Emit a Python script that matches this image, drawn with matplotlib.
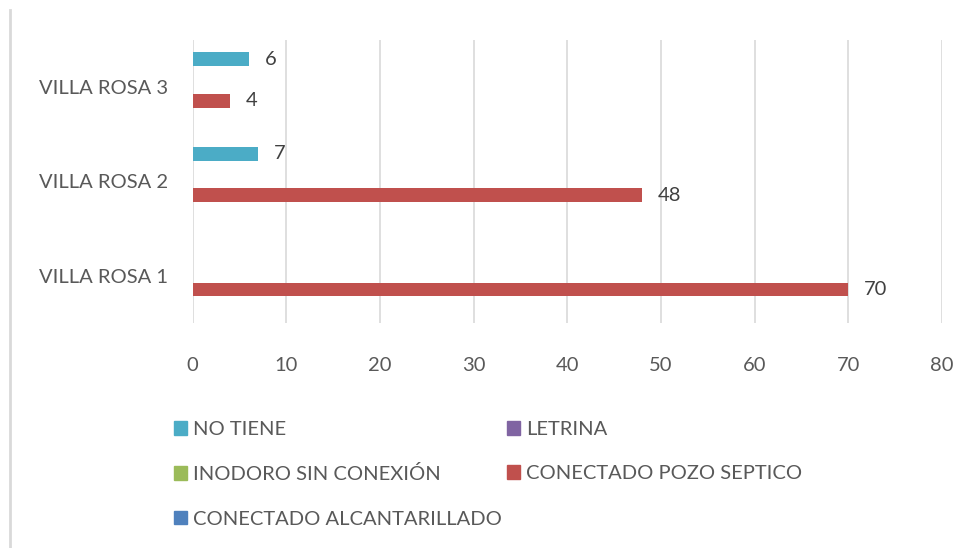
import matplotlib
matplotlib.use("Agg")
import numpy as np
from matplotlib import pyplot as plt
from matplotlib.lines import Line2D
from matplotlib.patches import Patch

# datos
categorias = ["VILLA ROSA 1", "VILLA ROSA 2", "VILLA ROSA 3"]
series = ["CONECTADO ALCANTARILLADO", "CONECTADO POZO SEPTICO",
          "INODORO SIN CONEXIÓN", "LETRINA", "NO TIENE"]
alcantarillado = [0, 0, 0]
pozo_septico = [70, 48, 4]
inodoro = [0, 0, 0]
letrina = [0, 0, 0]
no_tiene = [0, 7, 6]
colores = ["#4F81BD", "#C0504D", "#9BBB59", "#8064A2", "#4BACC6"]

valores = [alcantarillado, pozo_septico, inodoro, letrina, no_tiene]

plt.rcParams['font.family'] = ['Lato', 'DejaVu Sans']

fig = plt.figure(figsize=(9.73, 5.48), dpi=100)
ax = fig.add_axes([0.198, 0.411, 0.77, 0.516])

y = np.arange(len(categorias))
alto = 0.147
for i, (nombre, vals, col) in enumerate(zip(series, valores, colores)):
    pos = y + (i - 2) * alto
    ax.barh(pos, vals, height=alto, color=col, label=nombre, zorder=3)
    for p, v in zip(pos, vals):
        if v:
            ax.text(v + 1.7, p, str(v), va="center", ha="left",
                    fontsize=14.5, color="#404040")

ax.set_xlim(0, 80)
ax.set_ylim(-0.5, 2.5)
ax.set_xticks(np.arange(0, 81, 10))
ax.set_yticks(y)
ax.set_yticklabels(categorias)
ax.tick_params(axis="both", length=0, labelsize=14.5, colors="#595959")
ax.tick_params(axis="x", pad=25)
ax.tick_params(axis="y", pad=18)
ax.grid(axis="x", color="#D9D9D9", linewidth=1.2, zorder=0)
for s in ax.spines.values():
    s.set_visible(False)

# leyenda (orden por columnas)
orden = [4, 2, 0, 3, 1]
handles = [Patch(color=colores[k]) for k in orden]
labels = [series[k] for k in orden]
fig.legend(handles, labels, ncol=2, loc="upper left",
           bbox_to_anchor=(0.160, 0.265), frameon=False, fontsize=14.5,
           labelcolor="#595959", handlelength=0.65, handleheight=0.65,
           handletextpad=0.3, columnspacing=0.25, labelspacing=1.36)

# borde izquierdo
fig.add_artist(Line2D([0.0103, 0.0103], [0, 0.982], color="#D9D9D9", linewidth=2))

plt.savefig("out.png", dpi=100)
